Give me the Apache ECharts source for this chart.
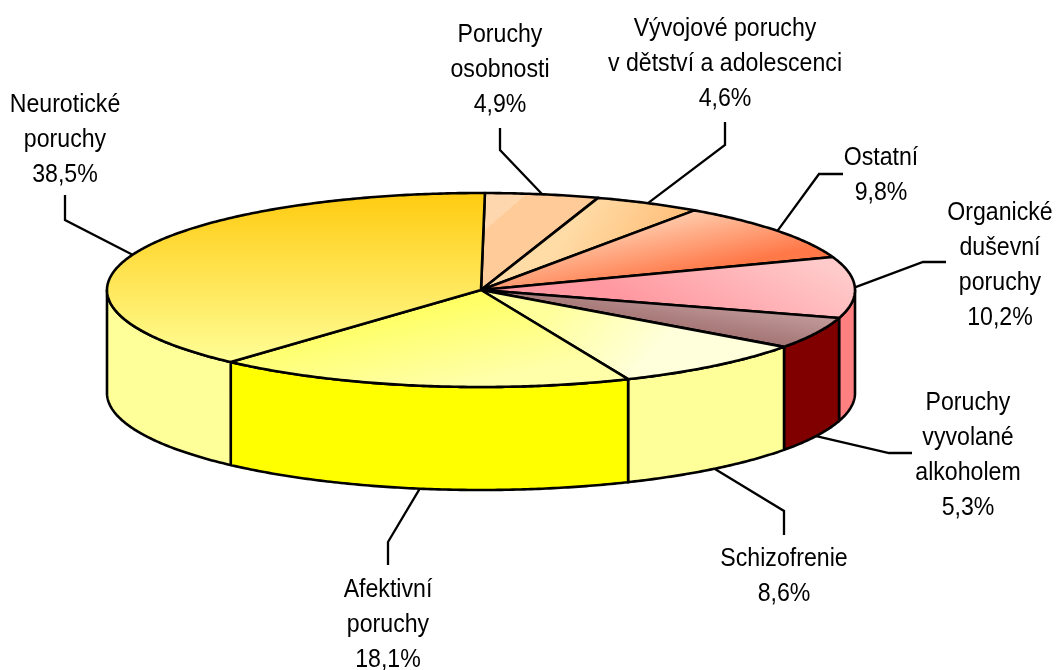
<!DOCTYPE html>
<html>
<head>
<meta charset="utf-8">
<style>
  html, body { margin: 0; padding: 0; background: #fff; }
  #chart { width: 1057px; height: 670px; }
</style>
<script src="https://cdn.jsdelivr.net/npm/echarts@6/dist/echarts.min.js"></script>
</head>
<body>
<div id="chart"></div>
<script>
// data, clockwise from the top of the pie
var categories = ['Poruchy\nosobnosti', 'Vývojové poruchy\nv dětství a adolescenci', 'Ostatní',
  'Organické\nduševní\nporuchy', 'Poruchy\nvyvolané\nalkoholem', 'Schizofrenie', 'Afektivní\nporuchy', 'Neurotické\nporuchy'];
var shares = [4.9, 4.6, 9.8, 10.2, 5.3, 8.6, 18.1, 38.5];

// flat colour of the outer wall
var wallColors = ['#ffcc99', '#ffcc99', '#ff9966', '#ff8080', '#800000', '#ffff99', '#ffff00', '#ffff99'];
// gradient of the top face: [x, y, x2, y2, from, to, hard stop]
var topFills = [
  [487, 195, 520, 233, '#ffd7ae', '#ffcb99', 0.5],
  [590, 200, 680, 260, '#ffdba5', '#ffb870'],
  [693, 213, 705, 270, '#ffc8a8', '#ff7848'],
  [760, 230, 700, 340, '#ffcaca', '#ff98a0'],
  [790, 290, 780, 350, '#d4b0b0', '#a07070'],
  [560, 300, 640, 370, '#ffff9c', '#ffffdc'],
  [420, 290, 440, 390, '#ffff55', '#ffffaa'],
  [300, 193, 300, 365, '#ffcb10', '#ffff99']
];
// leader line from the slice edge: [elbow x, elbow y, end x, end y]
var leaders = [
  [500, 150, 500, 128], [725, 145, 725, 122], [819, 174, 843, 174], [923, 262, 946, 262],
  [889, 453, 912, 453], [784, 511, 784, 535], [388, 542, 388, 565], [65, 220, 65, 195]
];
// label centre
var labelPos = [
  [500, 70], [725, 64], [881, 175], [1000, 265],
  [968, 455], [784, 576], [388, 625], [65, 140]
];

// pie geometry
var cx = 481, cy = 290, rx = 374, ry = 97, depth = 103, startDeg = 0.6;
var total = shares.reduce(function (a, b) { return a + b; }, 0);
var starts = [];
shares.reduce(function (acc, v, i) { starts[i] = acc; return acc + v; }, 0);

function angleAt(cum) { return (startDeg + cum / total * 360) * Math.PI / 180; }
function pt(t, dy) { return [cx + rx * Math.sin(t), cy - ry * Math.cos(t) + (dy || 0)]; }
function arc(t1, t2, dy) {
  var n = Math.max(2, Math.ceil(Math.abs(t2 - t1) / 0.01)), out = [];
  for (var i = 0; i <= n; i++) out.push(pt(t1 + (t2 - t1) * i / n, dy));
  return out;
}
var lineStyle = { stroke: '#000', lineWidth: 2.6, lineJoin: 'round' };

function renderWall(params, api) {
  var i = params.dataIndex;
  var t1 = Math.max(angleAt(starts[i]), Math.PI / 2);
  var t2 = Math.min(angleAt(starts[i] + api.value(0)), Math.PI * 1.5);
  if (t2 <= t1) return { type: 'group', children: [] };
  return {
    type: 'polygon',
    shape: { points: arc(t1, t2, 0).concat(arc(t2, t1, depth)) },
    style: Object.assign({ fill: wallColors[i] }, lineStyle)
  };
}

function renderTop(params, api) {
  var i = params.dataIndex;
  var t1 = angleAt(starts[i]), t2 = angleAt(starts[i] + api.value(0));
  var f = topFills[i];
  var stops = f[6] === undefined
    ? [{ offset: 0, color: f[4] }, { offset: 1, color: f[5] }]
    : [{ offset: 0, color: f[4] }, { offset: f[6], color: f[4] }, { offset: f[6], color: f[5] }, { offset: 1, color: f[5] }];
  return {
    type: 'polygon',
    shape: { points: [[cx, cy]].concat(arc(t1, t2, 0)) },
    style: Object.assign({
      fill: { type: 'linear', global: true, x: f[0], y: f[1], x2: f[2], y2: f[3], colorStops: stops }
    }, lineStyle)
  };
}

function renderLabel(params, api) {
  var i = params.dataIndex, v = api.value(0);
  var mid = angleAt(starts[i] + v / 2);
  var front = mid > Math.PI / 2 && mid < Math.PI * 1.5;
  var a = pt(mid, front ? depth : 0), l = leaders[i];
  return {
    type: 'group',
    children: [{
      type: 'polyline',
      shape: { points: [a, [l[0], l[1]], [l[2], l[3]]] },
      style: { stroke: '#000', lineWidth: 2.3, fill: null }
    }, {
      type: 'text',
      x: labelPos[i][0], y: labelPos[i][1],
      scaleX: 0.89,
      style: {
        text: categories[i] + '\n' + v.toFixed(1).replace('.', ',') + '%',
        x: 0, y: 0,
        align: 'center', verticalAlign: 'middle',
        fontFamily: '"Liberation Sans", Arial, sans-serif',
        fontSize: 26, lineHeight: 35, fill: '#000'
      }
    }]
  };
}

var chart = echarts.init(document.getElementById('chart'));
var values = shares.map(function (v) { return [v]; });
function layer(fn, z) {
  return { type: 'custom', coordinateSystem: 'none', renderItem: fn, data: values, z: z, silent: true, animation: false, clip: false };
}
chart.setOption({
  animation: false,
  backgroundColor: '#fff',
  series: [layer(renderLabel, 1), layer(renderWall, 2), layer(renderTop, 3)]
});
</script>
</body>
</html>
